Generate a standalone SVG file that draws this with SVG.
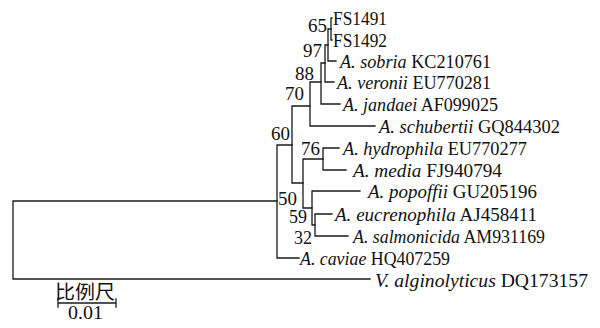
<svg xmlns="http://www.w3.org/2000/svg" width="600" height="328" viewBox="0 0 600 328">
<style>
.t{font-family:"Liberation Serif","Times New Roman",serif;font-size:19px;fill:#111}
.b{font-family:"Liberation Serif","Times New Roman",serif;font-size:19px;fill:#111}
.i{font-style:italic}
.e{fill:none;stroke:#1a1a1a;stroke-width:1.3;stroke-linecap:square}
.cjk{font-family:"Liberation Serif","Noto Sans CJK SC",serif;font-size:19px;fill:#111}
</style>
<rect width="600" height="328" fill="#fff"/>
<g id="connectors" class="e">
<path d="M13,201V279M13,201H277M13,279H370"/>
<path d="M277,145V258M277,145H292M277,258H299"/>
<path d="M292,106V183M292,106H310M292,183H303"/>
<path d="M310,82V126M310,82H321M310,126H375"/>
<path d="M321,63V104M321,63H325M321,104H340"/>
<path d="M325,45V82M325,45H328M325,82H334"/>
<path d="M328,29V61M328,29H331M328,61H336"/>
<path d="M331,18V40M331,18H332M331,40H332"/>
<path d="M303,159V208M303,159H323M303,208H312"/>
<path d="M323,148V170M323,148H339M323,170H346"/>
<path d="M312,191V225M312,191H360M312,225H315"/>
<path d="M315,214V236M315,214H332M315,236H348"/>
</g>
<g id="node-65"><text class="b" x="327" y="32" text-anchor="end">65</text></g>
<g id="node-97"><text class="b" x="322" y="57" text-anchor="end">97</text></g>
<g id="node-88"><text class="b" x="314" y="80" text-anchor="end">88</text></g>
<g id="node-70"><text class="b" x="304" y="100" text-anchor="end">70</text></g>
<g id="node-60"><text class="b" x="290" y="140" text-anchor="end">60</text></g>
<g id="node-76"><text class="b" x="320" y="155" text-anchor="end">76</text></g>
<g id="node-50"><text class="b" x="297" y="205" text-anchor="end">50</text></g>
<g id="node-59"><text class="b" x="307" y="223" text-anchor="end" style="font-size:18px">59</text></g>
<g id="node-32"><text class="b" x="312" y="244" text-anchor="end" style="font-size:18px">32</text></g>
<g id="leaf-FS1491"><text class="t" x="333" y="25" textLength="54" lengthAdjust="spacingAndGlyphs">FS1491</text></g>
<g id="leaf-FS1492"><text class="t" x="333" y="47" textLength="54" lengthAdjust="spacingAndGlyphs">FS1492</text></g>
<g id="leaf-sobria"><text class="t" x="340" y="68" textLength="151" lengthAdjust="spacingAndGlyphs"><tspan class="i">A. sobria</tspan> KC210761</text></g>
<g id="leaf-veronii"><text class="t" x="337" y="89" textLength="154" lengthAdjust="spacingAndGlyphs"><tspan class="i">A. veronii</tspan> EU770281</text></g>
<g id="leaf-jandaei"><text class="t" x="343" y="111" textLength="155" lengthAdjust="spacingAndGlyphs"><tspan class="i">A. jandaei</tspan> AF099025</text></g>
<g id="leaf-schubertii"><text class="t" x="379" y="133" textLength="181" lengthAdjust="spacingAndGlyphs"><tspan class="i">A. schubertii</tspan> GQ844302</text></g>
<g id="leaf-hydrophila"><text class="t" x="343" y="155" textLength="184" lengthAdjust="spacingAndGlyphs"><tspan class="i">A. hydrophila</tspan> EU770277</text></g>
<g id="leaf-media"><text class="t" x="353" y="177" textLength="149" lengthAdjust="spacingAndGlyphs"><tspan class="i">A. media</tspan> FJ940794</text></g>
<g id="leaf-popoffii"><text class="t" x="368" y="198" textLength="169" lengthAdjust="spacingAndGlyphs"><tspan class="i">A. popoffii</tspan> GU205196</text></g>
<g id="leaf-eucrenophila"><text class="t" x="335" y="221" textLength="202" lengthAdjust="spacingAndGlyphs"><tspan class="i">A. eucrenophila</tspan> AJ458411</text></g>
<g id="leaf-salmonicida"><text class="t" x="353" y="243" textLength="192" lengthAdjust="spacingAndGlyphs"><tspan class="i">A. salmonicida</tspan> AM931169</text></g>
<g id="leaf-caviae"><text class="t" x="300" y="265" textLength="150" lengthAdjust="spacingAndGlyphs"><tspan class="i">A. caviae</tspan> HQ407259</text></g>
<g id="leaf-alginolyticus"><text class="t" x="375" y="287" textLength="213" lengthAdjust="spacingAndGlyphs"><tspan class="i">V. alginolyticus</tspan> DQ173157</text></g>
<g id="scale-bar">
<text class="cjk" x="55" y="299" textLength="60" lengthAdjust="spacingAndGlyphs">比例尺</text>
<path class="e" d="M58,303H116M58,299V307M116,299V307"/>
<text class="b" x="68" y="319" textLength="35" lengthAdjust="spacingAndGlyphs" style="font-size:18px">0.01</text>
</g>
</svg>
